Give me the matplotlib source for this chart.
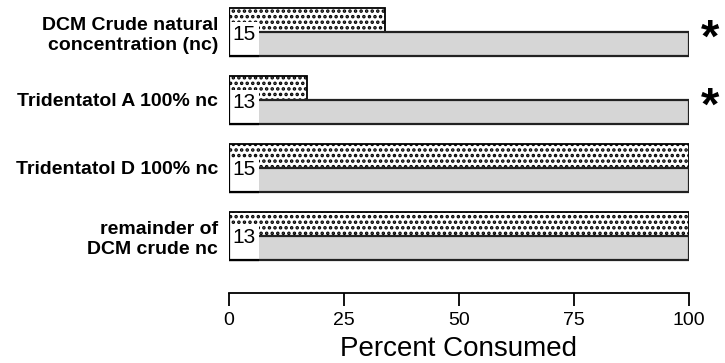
import matplotlib
matplotlib.use('Agg')
import matplotlib.pyplot as plt
import numpy as np

# data
treatments = ['DCM Crude natural\nconcentration (nc)', 'Tridentatol A 100% nc',
              'Tridentatol D 100% nc', 'remainder of\nDCM crude nc']
treated = [34, 17, 100, 100]     # stippled bars
control = [100, 100, 100, 100]   # gray bars
n_reps = ['15', '13', '15', '13']
signif = [True, True, False, False]
xticks = [0, 25, 50, 75, 100]

plt.rcParams['font.family'] = ['Liberation Sans', 'DejaVu Sans']
plt.rcParams['hatch.linewidth'] = 1.7

fig = plt.figure(figsize=(7.25, 3.63), dpi=100)
ax = fig.add_axes([229 / 725, 70 / 363, 460 / 725, 293 / 363])

y = np.arange(len(treatments))
h = 0.35

# bars
ax.barh(y - h / 2, treated, height=h, color='white', edgecolor='black',
        hatch='...', linewidth=1.3, zorder=2)
ax.barh(y + h / 2, control, height=h, color='#d6d6d6', edgecolor='#222222',
        linewidth=1.6, zorder=2)

# white box with number of replicates
box_w = 6.5
for i, n in enumerate(n_reps):
    top = i - h + 0.6 * h
    ax.add_patch(plt.Rectangle((0, top), box_w, i + h - top, facecolor='white',
                               edgecolor='none', zorder=3))
    ax.vlines(0, i - h, i + h, color='black', linewidth=1.6, zorder=4)
    ax.hlines(i + h, 0, box_w, color='black', linewidth=1.6, zorder=4)
    ax.text(0.7, i + 0.03, n, ha='left', va='center', fontsize=15, zorder=5)

# significance stars
for i, s in enumerate(signif):
    if s:
        ax.text(102.5, i + 0.12, '*', ha='left', va='center', fontsize=34,
                fontweight='bold', clip_on=False)

ax.set_ylim(-0.47 + 293 / 68, -0.47)
ax.set_xlim(0, 100)
ax.set_yticks(y)
ax.set_yticklabels(treatments, fontsize=14, fontweight='bold', ha='right',
                   multialignment='right')
ax.tick_params(axis='y', length=0, pad=8)

ax.set_xticks(xticks)
ax.set_xticklabels([str(t) for t in xticks], fontsize=14)
ax.tick_params(axis='x', direction='out', length=9, width=1.3, pad=5)
ax.set_xlabel('Percent Consumed', fontsize=20, labelpad=5)

for sp in ['top', 'right', 'left']:
    ax.spines[sp].set_visible(False)
ax.spines['bottom'].set_linewidth(1.3)

fig.savefig('out.png', dpi=100)
